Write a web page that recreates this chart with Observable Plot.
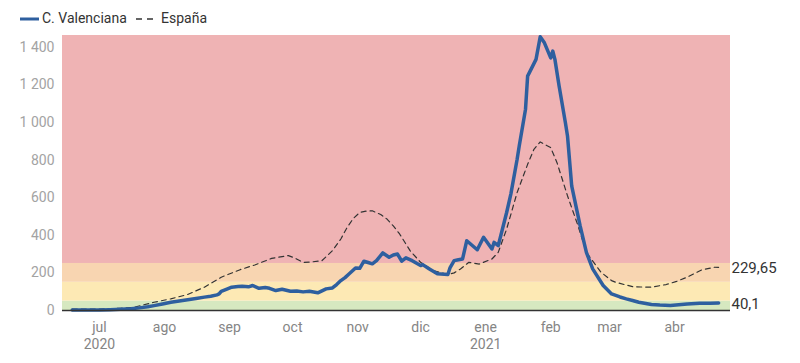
<!DOCTYPE html>
<html><head><meta charset="utf-8">
<script src="https://cdn.jsdelivr.net/npm/d3@7"></script>
<script src="https://cdn.jsdelivr.net/npm/@observablehq/plot@0.6"></script>
<style>
body{margin:0;background:#fff;font-family:Roboto,sans-serif;}
#legend{height:28px;width:800px;position:relative;font-size:14px;color:#333;line-height:16px;}
#legend .sw{position:absolute;top:14px;}
#legend .lb{position:absolute;top:10px;white-space:nowrap;}
</style></head><body>
<div id="legend">
  <svg class="sw" style="left:20px" width="19" height="10"><line x1="0" x2="19" y1="5" y2="5" stroke="#2e5f9f" stroke-width="3"/></svg>
  <span class="lb" style="left:42px">C. Valenciana</span>
  <svg class="sw" style="left:136px" width="17" height="10"><line x1="0" x2="17" y1="5" y2="5" stroke="#333" stroke-width="1.3" stroke-dasharray="6,5"/></svg>
  <span class="lb" style="left:161px">España</span>
</div>
<div id="chart"></div>
<script>
const cvDates = ["2020-06-18","2020-06-25","2020-07-01","2020-07-06","2020-07-11","2020-07-16","2020-07-20","2020-07-24","2020-07-27","2020-07-31","2020-08-04","2020-08-08","2020-08-12","2020-08-16","2020-08-20","2020-08-23","2020-08-26","2020-08-27","2020-08-28","2020-08-31","2020-09-02","2020-09-05","2020-09-07","2020-09-10","2020-09-12","2020-09-15","2020-09-18","2020-09-20","2020-09-23","2020-09-26","2020-09-30","2020-10-03","2020-10-06","2020-10-09","2020-10-13","2020-10-17","2020-10-20","2020-10-22","2020-10-24","2020-10-26","2020-10-28","2020-10-31","2020-11-02","2020-11-04","2020-11-06","2020-11-08","2020-11-10","2020-11-13","2020-11-16","2020-11-18","2020-11-20","2020-11-22","2020-11-24","2020-11-27","2020-12-01","2020-12-02","2020-12-05","2020-12-09","2020-12-14","2020-12-15","2020-12-17","2020-12-19","2020-12-21","2020-12-23","2020-12-28","2020-12-31","2021-01-04","2021-01-05","2021-01-07","2021-01-11","2021-01-13","2021-01-16","2021-01-17","2021-01-20","2021-01-21","2021-01-25","2021-01-27","2021-01-29","2021-02-01","2021-02-02","2021-02-03","2021-02-05","2021-02-08","2021-02-09","2021-02-11","2021-02-15","2021-02-18","2021-02-21","2021-02-26","2021-03-02","2021-03-06","2021-03-09","2021-03-12","2021-03-15","2021-03-21","2021-03-25","2021-03-30","2021-04-03","2021-04-07","2021-04-13","2021-04-18","2021-04-22"];
const cvValues = [3,3,3,4,6,9,14,20,26,35,44,51,57,64,71,76,83,88,102,115,124,127,129,126,133,118,122,118,106,113,102,104,99,102,94,115,120,138,159,175,195,226,224,262,255,248,265,306,283,295,300,262,280,265,239,244,222,195,191,226,265,270,274,371,323,389,327,362,345,521,619,804,875,1070,1246,1335,1455,1423,1343,1379,1335,1193,998,928,663,451,309,221,133,88,72,62,53,44,32,29,27,31,35,39,38,40.1];

const esDates = ["2020-06-18","2020-06-25","2020-07-01","2020-07-06","2020-07-11","2020-07-17","2020-07-22","2020-07-27","2020-08-04","2020-08-12","2020-08-20","2020-08-28","2020-09-06","2020-09-13","2020-09-21","2020-09-29","2020-10-02","2020-10-06","2020-10-10","2020-10-15","2020-10-20","2020-10-24","2020-10-27","2020-10-30","2020-11-02","2020-11-05","2020-11-08","2020-11-12","2020-11-15","2020-11-18","2020-11-21","2020-11-26","2020-12-01","2020-12-07","2020-12-14","2020-12-17","2020-12-20","2020-12-24","2020-12-29","2021-01-04","2021-01-07","2021-01-11","2021-01-16","2021-01-21","2021-01-24","2021-01-27","2021-02-01","2021-02-04","2021-02-09","2021-02-14","2021-02-18","2021-02-25","2021-03-02","2021-03-04","2021-03-08","2021-03-12","2021-03-16","2021-03-21","2021-03-28","2021-04-02","2021-04-07","2021-04-14","2021-04-20","2021-04-22"];
const esValues = [8,8,8,10,12,16,30,44,62,85,124,177,217,242,277,292,279,256,258,265,318,380,442,490,521,528,530,510,486,450,407,318,256,212,191,200,221,256,247,274,309,433,627,777,857,896,866,786,610,451,309,203,159,150,138,127,125,124,138,155,177,216,230,229.65];

const bandLow = [0, 50, 150, 250];
const bandHigh = [50, 150, 250, 1462];
const bandColors = ["#d6e8c0", "#fde9b4", "#f8d5b1", "#efb3b4"];

const yTicks = [0, 200, 400, 600, 800, 1000, 1200, 1400];
const monthTicks = ["2020-07-01","2020-08-01","2020-09-01","2020-10-01","2020-11-01","2020-12-01","2021-01-01","2021-02-01","2021-03-01","2021-04-01"];
const monthLabels = ["jul\n2020","ago","sep","oct","nov","dic","ene\n2021","feb","mar","abr"];
const endLabels = ["229,65", "40,1"];

const parse = s => new Date(s + "T00:00:00Z");
const cv = cvDates.map((d, i) => ({date: parse(d), value: cvValues[i]}));
const es = esDates.map((d, i) => ({date: parse(d), value: esValues[i]}));
const xMin = new Date(Date.UTC(2020, 5, 13, 9));
const xMax = new Date(Date.UTC(2021, 3, 27, 16));
const bands = bandLow.map((lo, i) => ({lo, hi: bandHigh[i], color: bandColors[i], x1: xMin, x2: xMax}));
const tickDates = monthTicks.map(parse);
const labelMap = new Map(tickDates.map((d, i) => [+d, monthLabels[i]]));
const ends = [
  {date: xMax, value: es[es.length - 1].value, label: endLabels[0]},
  {date: xMax, value: cv[cv.length - 1].value, label: endLabels[1]}
];
const nf = v => v >= 1000 ? d3.format(",")(v).replace(",", "\u00a0") : String(v);

const chart = Plot.plot({
  width: 800,
  height: 335,
  marginTop: 7,
  marginBottom: 53,
  marginLeft: 62,
  marginRight: 70,
  style: {fontFamily: "Roboto, sans-serif", fontSize: "14px", background: "white", overflow: "visible"},
  x: {type: "utc", domain: [xMin, xMax]},
  y: {domain: [0, 1462]},
  marks: [
    Plot.rect(bands, {x1: "x1", x2: "x2", y1: "lo", y2: "hi", fill: "color"}),
    Plot.axisY({ticks: yTicks, tickSize: 0, tickPadding: 8, tickFormat: nf, fill: "#a3a3a3", fontSize: 14}),
    Plot.axisX({ticks: tickDates, tickSize: 0, tickPadding: 9, tickFormat: d => labelMap.get(+d), fill: "#858585", fontSize: 14, lineHeight: 1.25}),
    Plot.line(es, {x: "date", y: "value", stroke: "#333", strokeWidth: 1.2, strokeDasharray: "5,4"}),
    Plot.line(cv, {x: "date", y: "value", stroke: "#2e5f9f", strokeWidth: 3.5, strokeLinejoin: "round"}),
    Plot.ruleY([0], {stroke: "#333", strokeWidth: 1.3}),
    Plot.text(ends, {x: "date", y: "value", text: "label", textAnchor: "start", dx: 1, dy: 1, fill: "#333", fontSize: 15})
  ]
});
document.getElementById("chart").append(chart);
</script>
</body></html>
